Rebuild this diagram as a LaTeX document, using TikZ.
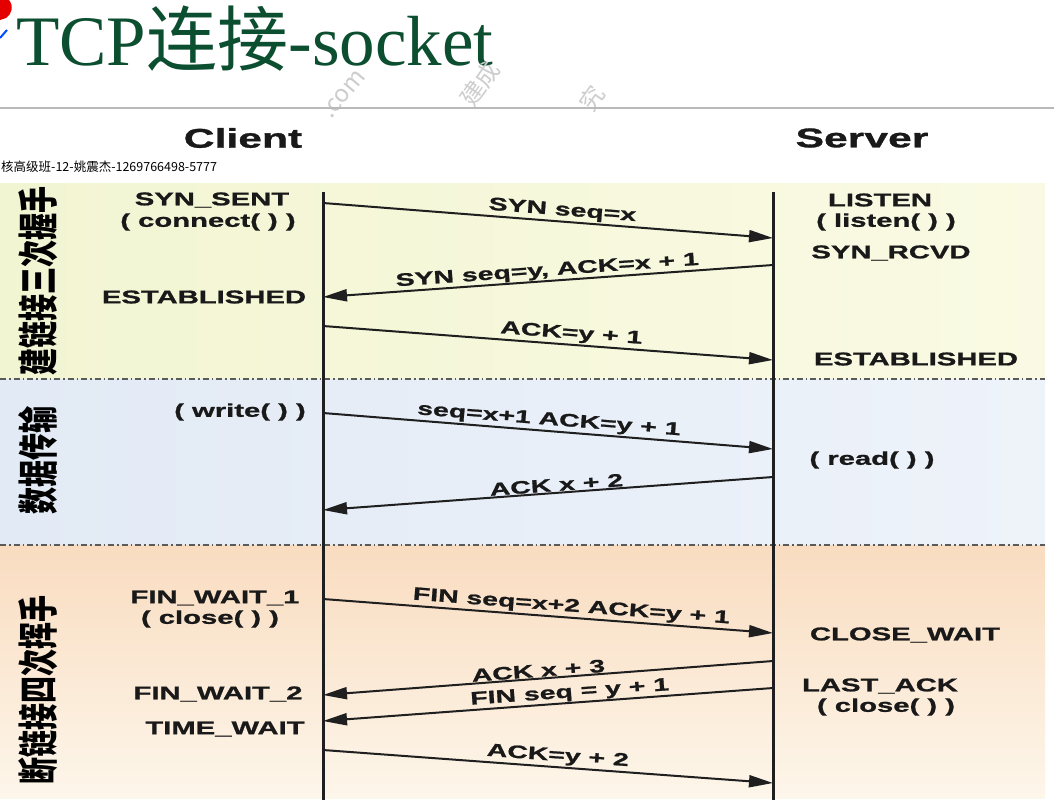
\documentclass[tikz,border=0pt]{standalone}
\usepackage{fontspec}
\setmainfont{Liberation Serif}
\newfontfamily\widebf[FakeStretch=1.58,FakeBold=1.1]{Liberation Sans Bold}
\newfontfamily\cjk{Noto Sans CJK SC}
\usetikzlibrary{arrows.meta}
\definecolor{titlegreen}{RGB}{12,78,48}
\definecolor{ylwL}{RGB}{242,245,210}
\definecolor{ylwR}{RGB}{250,250,228}
\definecolor{bluL}{RGB}{226,234,245}
\definecolor{bluR}{RGB}{238,243,250}
\definecolor{orT}{RGB}{249,220,192}
\definecolor{orB}{RGB}{253,246,234}
\definecolor{sepgray}{RGB}{90,90,90}
\definecolor{wmgray}{RGB}{205,205,205}
\tikzset{
  st/.style={font=\widebf\fontsize{18.5}{20}\selectfont, inner sep=0pt, text=black!90},
  hdr/.style={font=\widebf\fontsize{27}{30}\selectfont, inner sep=0pt, text=black!90},
  lab/.style={font=\widebf\fontsize{18}{20}\selectfont, inner sep=1.5pt, text=black!90},
  msg/.style={line width=2pt, black!88, -{Triangle[length=24pt,width=12pt]}},
  life/.style={line width=3pt, black!88},
  sep/.style={line width=1.2pt, sepgray, dash pattern=on 6pt off 3pt on 1.5pt off 3pt},
  phase/.style={font=\cjk\bfseries\fontsize{27}{28}\selectfont, inner sep=0pt, rotate=90, transform shape},
  wm/.style={font=\cjk\fontsize{24}{26}\selectfont, text=wmgray, inner sep=0pt}
}
\begin{document}
\begin{tikzpicture}[x=1pt,y=-1pt]
\useasboundingbox (0,0) rectangle (1054,804);
\fill[white] (0,0) rectangle (1054,804);
% logo fragments
\fill[red!90!black] (0,0) -- (9,0) .. controls (14,6) and (12,14) .. (6,18) -- (0,20) -- cycle;
\draw[blue!70!cyan, line width=2pt] (0,38) -- (7,30);
% title
\node[anchor=base west, inner sep=0pt, text=titlegreen, font=\fontsize{71}{72}\selectfont] (title) at (16,65) {TCP{\cjk 连接}-socket};
% watermarks
\node[wm, rotate=50] (wm1) at (344,94) {.com};
\node[wm, rotate=55] (wm2) at (480,84) {建成};
\node[wm, rotate=55] (wm3) at (592,98) {究};
% top rule
\draw[gray!55, line width=1.2pt] (0,108) -- (1054,108);
% headers
\node[hdr] (client) at (243,138) {Client};
\node[hdr] (server) at (862,138) {Server};
\node[anchor=west, inner sep=0pt, font=\cjk\fontsize{12.5}{13}\selectfont] (user) at (1,167) {核高级班-12-姚震杰-1269766498-5777};
% panels
\shade[left color=ylwL, right color=ylwR] (0,183) rectangle (1045,379);
\shade[left color=bluL, right color=bluR] (0,379) rectangle (1045,545);
\shade[top color=orT, bottom color=orB] (0,545) rectangle (1045,798);
\draw[sep] (0,379) -- (1045,379);
\draw[sep] (0,545) -- (1045,545);
% phase labels
\begin{scope}[shift={(38,281)}, xscale=1.5]
\node[phase] (ph1) at (0,0) {建链接三次握手};
\end{scope}
\begin{scope}[shift={(38,460)}, xscale=1.5]
\node[phase] (ph2) at (0,0) {数据传输};
\end{scope}
\begin{scope}[shift={(38,690)}, xscale=1.5]
\node[phase] (ph3) at (0,0) {断链接四次挥手};
\end{scope}
% lifelines
\coordinate (ct) at (323,192);
\coordinate (cb) at (323,800);
\coordinate (stp) at (773,192);
\coordinate (sb) at (773,800);
\draw[life] (ct) -- (cb);
\draw[life] (stp) -- (sb);
% client states
\node[st] (ss) at (212,200) {SYN\_SENT};
\node[st] (cn) at (208,222) {( connect( ) )};
\node[st] (est1) at (204,297) {ESTABLISHED};
\node[st] (wr) at (240,412) {( write( ) )};
\node[st] (fw1) at (215,598) {FIN\_WAIT\_1};
\node[st] (cl1) at (210,619) {( close( ) )};
\node[st] (fw2) at (218,694) {FIN\_WAIT\_2};
\node[st] (tw) at (225,729) {TIME\_WAIT};
% server states
\node[st] (li) at (880,200) {LISTEN};
\node[st] (lif) at (886,222) {( listen( ) )};
\node[st] (sr) at (891,253) {SYN\_RCVD};
\node[st] (est2) at (916,359) {ESTABLISHED};
\node[st] (rd) at (872,460) {( read( ) )};
\node[st] (cw) at (905,635) {CLOSE\_WAIT};
\node[st] (la) at (880,686) {LAST\_ACK};
\node[st] (cl2) at (886,707) {( close( ) )};
% message endpoints
\coordinate (c1) at (323,203); \coordinate (s1) at (773,238);
\coordinate (s2) at (773,265); \coordinate (c2) at (323,297);
\coordinate (c3) at (323,326); \coordinate (s3) at (773,360);
\coordinate (c4) at (323,413); \coordinate (s4) at (773,449);
\coordinate (s5) at (773,477); \coordinate (c5) at (323,510);
\coordinate (c6) at (323,599); \coordinate (s6) at (773,633);
\coordinate (s7) at (773,661); \coordinate (c7) at (323,695);
\coordinate (s8) at (773,688); \coordinate (c8) at (323,721);
\coordinate (c9) at (323,750); \coordinate (s9) at (773,783);
% messages
\draw[msg] (c1) -- node[lab, pos=0.53, sloped, above] (m1) {SYN seq=x} (s1);
\draw[msg] (s2) -- (c2);
\path (c2) -- node[lab, pos=0.5, sloped, above] (m2) {SYN seq=y, ACK=x + 1} (s2);
\draw[msg] (c3) -- node[lab, pos=0.55, sloped, above] (m3) {ACK=y + 1} (s3);
\draw[msg] (c4) -- node[lab, pos=0.5, sloped, above] (m4) {seq=x+1 ACK=y + 1} (s4);
\draw[msg] (s5) -- (c5);
\path (c5) -- node[lab, pos=0.52, sloped, above] (m5) {ACK x + 2} (s5);
\draw[msg] (c6) -- node[lab, pos=0.55, sloped, above] (m6) {FIN seq=x+2 ACK=y + 1} (s6);
\draw[msg] (s7) -- (c7);
\path (c7) -- node[lab, pos=0.48, sloped, above] (m7) {ACK x + 3} (s7);
\draw[msg] (s8) -- (c8);
\path (c8) -- node[lab, pos=0.55, sloped, above] (m8) {FIN seq = y + 1} (s8);
\draw[msg] (c9) -- node[lab, pos=0.52, sloped, above] (m9) {ACK=y + 2} (s9);
\end{tikzpicture}
\end{document}
